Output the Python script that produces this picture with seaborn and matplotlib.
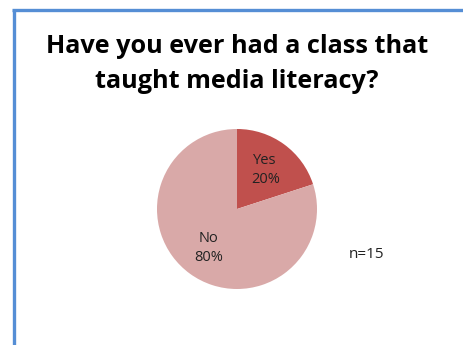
import matplotlib
matplotlib.use("Agg")
import matplotlib.pyplot as plt
import seaborn as sns
from matplotlib.lines import Line2D

categories = ["Yes", "No"]
percents = [20, 80]
colors = ["#C0504D", "#D9A9A8"]
title_lines = ["Have you ever had a class that", "taught media literacy?"]
note_text = "n=15"

sns.set_theme(style="white")
plt.rcParams["font.family"] = ["Open Sans", "DejaVu Sans"]

W, H = 463, 345
fig = plt.figure(figsize=(W / 100, H / 100), dpi=100)
fig.patch.set_facecolor("white")

# pie axes
cx, cy, r = 237, 209, 80
ax = fig.add_axes([(cx - r) / W, (H - cy - r) / H, 2 * r / W, 2 * r / H])
labels = [f"{c}\n{p}%" for c, p in zip(categories, percents)]
ax.pie(percents, labels=labels, colors=colors, startangle=90, counterclock=False,
       labeldistance=0.6, radius=1,
       textprops=dict(fontsize=10.5, color="#222222", ha="center", va="center",
                      linespacing=1.4),
       wedgeprops=dict(linewidth=0))
for t in ax.texts:
    t.set_horizontalalignment("center")
ax.set_xlim(-1, 1)
ax.set_ylim(-1, 1)
ax.set_aspect("auto")
ax.axis("off")

for line, base in zip(title_lines, [53, 88]):
    fig.text(237 / W, 1 - base / H, line, ha="center", va="baseline",
             fontsize=18.2, fontweight="bold", color="black")
fig.text(366 / W, 1 - 254 / H, note_text, ha="center", va="center",
         fontsize=11, color="#222222")

bc = "#558ED5"
fig.add_artist(Line2D([13.5 / W, 13.5 / W], [0, 1 - 9.5 / H], color=bc, lw=2.4,
                      transform=fig.transFigure, solid_capstyle="butt"))
fig.add_artist(Line2D([12 / W, 1], [1 - 10 / H, 1 - 10 / H], color=bc, lw=2.4,
                      transform=fig.transFigure, solid_capstyle="butt"))

fig.savefig("out.png", dpi=100, facecolor="white")
